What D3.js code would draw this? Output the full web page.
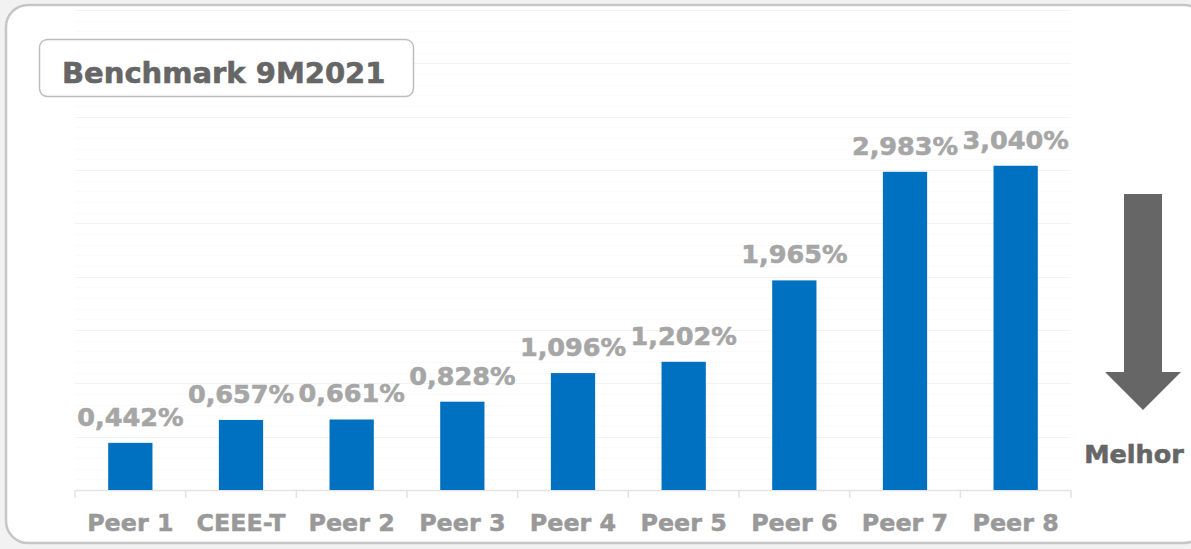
<!DOCTYPE html>
<html><head><meta charset="utf-8">
<script src="https://cdn.jsdelivr.net/npm/d3@7"></script>
<style>html,body{margin:0;padding:0;background:#f2f2f2;}svg{display:block;}</style>
</head><body>
<svg id="c" width="1191" height="549"></svg>
<script>
const categories = ["Peer 1","CEEE-T","Peer 2","Peer 3","Peer 4","Peer 5","Peer 6","Peer 7","Peer 8"];
const values = [0.442,0.657,0.661,0.828,1.096,1.202,1.965,2.983,3.040];
const valueLabels = ["0,442%","0,657%","0,661%","0,828%","1,096%","1,202%","1,965%","2,983%","3,040%"];
const title = "Benchmark 9M2021";
const arrowLabel = "Melhor";

const svg = d3.select("#c");
const font = "'DejaVu Sans', Verdana, sans-serif";

svg.append("rect").attr("x",6).attr("y",5).attr("width",1200).attr("height",538)
  .attr("rx",22).attr("fill","#fff").attr("stroke","#c6c6c6").attr("stroke-width",2.5);

const x = d3.scaleBand().domain(categories).range([75,1071]).padding(0);
const y = d3.scaleLinear().domain([0,4.5]).range([490,10]);

const grid = svg.append("g");
grid.selectAll("line").data(y.ticks(45).filter(d=>d>0)).join("line")
  .attr("x1",75).attr("x2",1071)
  .attr("y1",d=>Math.round(y(d))+0.5).attr("y2",d=>Math.round(y(d))+0.5)
  .attr("stroke",d=>Math.abs(d*2-Math.round(d*2))<1e-6?"#f2f2f2":"#fafafa").attr("stroke-width",1);

// title box
svg.append("rect").attr("x",39.5).attr("y",39.5).attr("width",374).attr("height",57)
  .attr("rx",8).attr("fill","#fff").attr("stroke","#bdbdbd").attr("stroke-width",1.5);
svg.append("text").attr("x",62).attr("y",83).attr("font-family",font).attr("font-weight","bold")
  .attr("font-size",29).attr("fill","#666").attr("stroke","#666").attr("stroke-width",0.6).text(title);

// axis
const ax = svg.append("g").attr("transform","translate(0,490)")
  .call(d3.axisBottom(x).tickSize(0).tickFormat(""));
ax.select(".domain").attr("stroke","#e3e3e3").attr("stroke-width",1.5);
const bounds = categories.map(c=>x(c)).concat([x.range()[1]]);
svg.append("g").selectAll("line").data(bounds).join("line")
  .attr("x1",d=>d).attr("x2",d=>d).attr("y1",490).attr("y2",498)
  .attr("stroke","#e3e3e3").attr("stroke-width",1.5);

const bw = x.bandwidth()*0.4;
svg.append("g").selectAll("rect").data(values).join("rect")
  .attr("x",(d,i)=>x(categories[i])+(x.bandwidth()-bw)/2)
  .attr("y",d=>y(d)).attr("width",bw).attr("height",d=>y(0)-y(d))
  .attr("fill","#0070C0");

svg.append("g").selectAll("text").data(values).join("text")
  .attr("x",(d,i)=>x(categories[i])+x.bandwidth()/2)
  .attr("y",d=>y(d)-17).attr("text-anchor","middle")
  .attr("font-family",font).attr("font-weight","bold").attr("font-size",25.5)
  .attr("fill","#a6a6a6").attr("stroke","#a6a6a6").attr("stroke-width",0.6).text((d,i)=>valueLabels[i]);

svg.append("g").selectAll("text").data(categories).join("text")
  .attr("x",d=>x(d)+x.bandwidth()/2).attr("y",531).attr("text-anchor","middle")
  .attr("font-family",font).attr("font-weight","bold").attr("font-size",23.8)
  .attr("fill","#999").attr("stroke","#999").attr("stroke-width",0.5).text(d=>d);

// arrow
svg.append("path").attr("d","M1124,194 L1162,194 L1162,372 L1181,372 L1143,410 L1105,372 L1124,372 Z")
  .attr("fill","#666");
svg.append("text").attr("x",1134).attr("y",463).attr("text-anchor","middle")
  .attr("font-family",font).attr("font-weight","bold").attr("font-size",25.5)
  .attr("fill","#666").attr("stroke","#666").attr("stroke-width",0.6).text(arrowLabel);
</script>
</body></html>
